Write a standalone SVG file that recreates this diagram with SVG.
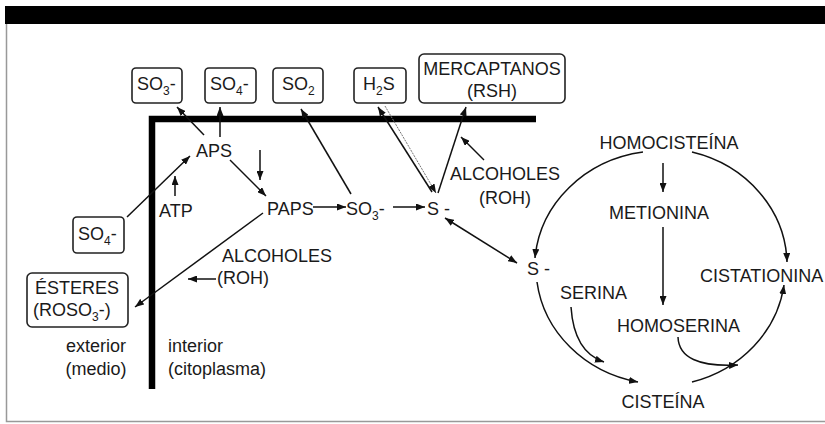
<svg xmlns="http://www.w3.org/2000/svg" width="825" height="424" viewBox="0 0 825 424">
<defs>
<marker id="ah" viewBox="0 0 9 7" refX="9" refY="3.5" markerWidth="9" markerHeight="7" markerUnits="userSpaceOnUse" orient="auto-start-reverse">
<path d="M0,0 L9,3.5 L0,7 z" fill="#111"/>
</marker>
<style>
text{font-family:"Liberation Sans",Arial,sans-serif;font-size:18px;fill:#1a1a1a}
.sub{font-size:12px}
.box{fill:#fff;stroke:#222;stroke-width:1.6}
.c{text-anchor:middle}
.ln{fill:none;stroke:#111;stroke-width:1.5;marker-end:url(#ah)}
.ln2{fill:none;stroke:#111;stroke-width:1.5;marker-end:url(#ah);marker-start:url(#ah)}
.thin{fill:none;stroke:#777;stroke-width:1;stroke-dasharray:2 1;marker-end:url(#ah)}
.mem{fill:none;stroke:#000;stroke-width:6.5}
</style>
</defs>
<rect width="825" height="424" fill="#fff"/>
<rect x="5" y="6" width="820" height="18" fill="#000"/>
<path d="M6.5,24 V421.5 H825" fill="none" stroke="#999" stroke-width="1.5"/>

<g id="membrane">
<path class="mem" d="M152,389 V119 H536"/>
</g>

<g id="box-so3"><rect class="box" x="132" y="68" width="50" height="35" rx="4"/><text x="137" y="90">SO<tspan class="sub" dy="5">3</tspan><tspan dy="-5">-</tspan></text></g>
<g id="box-so4"><rect class="box" x="205" y="68" width="51" height="35" rx="4"/><text x="210" y="90">SO<tspan class="sub" dy="5">4</tspan><tspan dy="-5">-</tspan></text></g>
<g id="box-so2"><rect class="box" x="273" y="68" width="50" height="35" rx="4"/><text x="282" y="90">SO<tspan class="sub" dy="5">2</tspan></text></g>
<g id="box-h2s"><rect class="box" x="354" y="68" width="52" height="35" rx="4"/><text x="363" y="90">H<tspan class="sub" dy="5">2</tspan><tspan dy="-5">S</tspan></text></g>
<g id="box-mercaptanos"><rect class="box" x="419" y="54" width="146" height="49" rx="5"/><text class="c" x="492" y="75">MERCAPTANOS</text><text class="c" x="492" y="97">(RSH)</text></g>
<g id="box-so4-ext"><rect class="box" x="73" y="217" width="51" height="36" rx="4"/><text x="78" y="240">SO<tspan class="sub" dy="5">4</tspan><tspan dy="-5">-</tspan></text></g>
<g id="box-esteres"><rect class="box" x="27" y="273" width="101" height="54" rx="5"/><text class="c" x="77" y="294">ÉSTERES</text><text x="33" y="316">(ROSO<tspan class="sub" dy="5">3</tspan><tspan dy="-5">-)</tspan></text></g>

<g id="aps"><text class="c" x="214" y="157">APS</text></g>
<g id="atp"><text x="159" y="217">ATP</text></g>
<g id="paps"><text x="267" y="215">PAPS</text></g>
<g id="so3-mid"><text x="346" y="215">SO<tspan class="sub" dy="5">3</tspan><tspan dy="-5">-</tspan></text></g>
<g id="s-mid"><text x="427" y="215">S -</text></g>
<g id="alcoholes-right"><text class="c" x="505" y="180">ALCOHOLES</text><text class="c" x="505" y="204">(ROH)</text></g>
<g id="alcoholes-left"><text x="222" y="262">ALCOHOLES</text><text x="217" y="284">(ROH)</text></g>
<g id="exterior"><text class="c" x="96" y="352">exterior</text><text class="c" x="96" y="375">(medio)</text></g>
<g id="interior"><text x="168" y="352">interior</text><text x="168" y="375">(citoplasma)</text></g>

<g id="homocisteina"><text class="c" x="669" y="149">HOMOCISTEÍNA</text></g>
<g id="metionina"><text class="c" x="659" y="219">METIONINA</text></g>
<g id="cistationina"><text x="700" y="282">CISTATIONINA</text></g>
<g id="s-right"><text x="527" y="275">S -</text></g>
<g id="serina"><text x="560" y="299">SERINA</text></g>
<g id="homoserina"><text x="617" y="332">HOMOSERINA</text></g>
<g id="cisteina"><text class="c" x="663" y="408">CISTEÍNA</text></g>

<g id="connectors">
<path class="ln" d="M204,135 L177,107"/>
<path class="ln" d="M220,137 V107"/>
<path class="ln" d="M260,150 V180"/>
<path class="ln" d="M230,160 L266,196"/>
<path class="ln" d="M127,217 L190,156"/>
<path class="ln" d="M175,196 V176"/>
<path class="ln" d="M313,207 H346"/>
<path class="ln" d="M351,194 L301,109"/>
<path class="ln" d="M393,207 H425"/>
<path class="ln" d="M432,192 L378,107"/>
<path class="thin" d="M385,106 L436,193"/>
<path class="ln" d="M438,193 L466,107"/>
<path class="ln" d="M484,160 L461,137"/>
<path class="ln2" d="M445,218 L517,263"/>
<path class="ln" d="M263,213 L135,307"/>
<path class="ln" d="M216,279 H188"/>

<path class="ln" d="M643,152 A127,117 0 0 0 535,258"/>
<path class="ln" d="M537,282 A127,117 0 0 0 638,382"/>
<path class="ln" d="M692,152 A127,117 0 0 1 787,262"/>
<path class="ln" d="M692,382 A127,117 0 0 0 784,285"/>
<path class="ln" d="M663,163 V192"/>
<path class="ln" d="M663,227 V305"/>
<path class="ln" d="M571,307 Q574,352 604,362"/>
<path class="ln" d="M678,337 Q679,368 738,365"/>
</g>
</svg>
